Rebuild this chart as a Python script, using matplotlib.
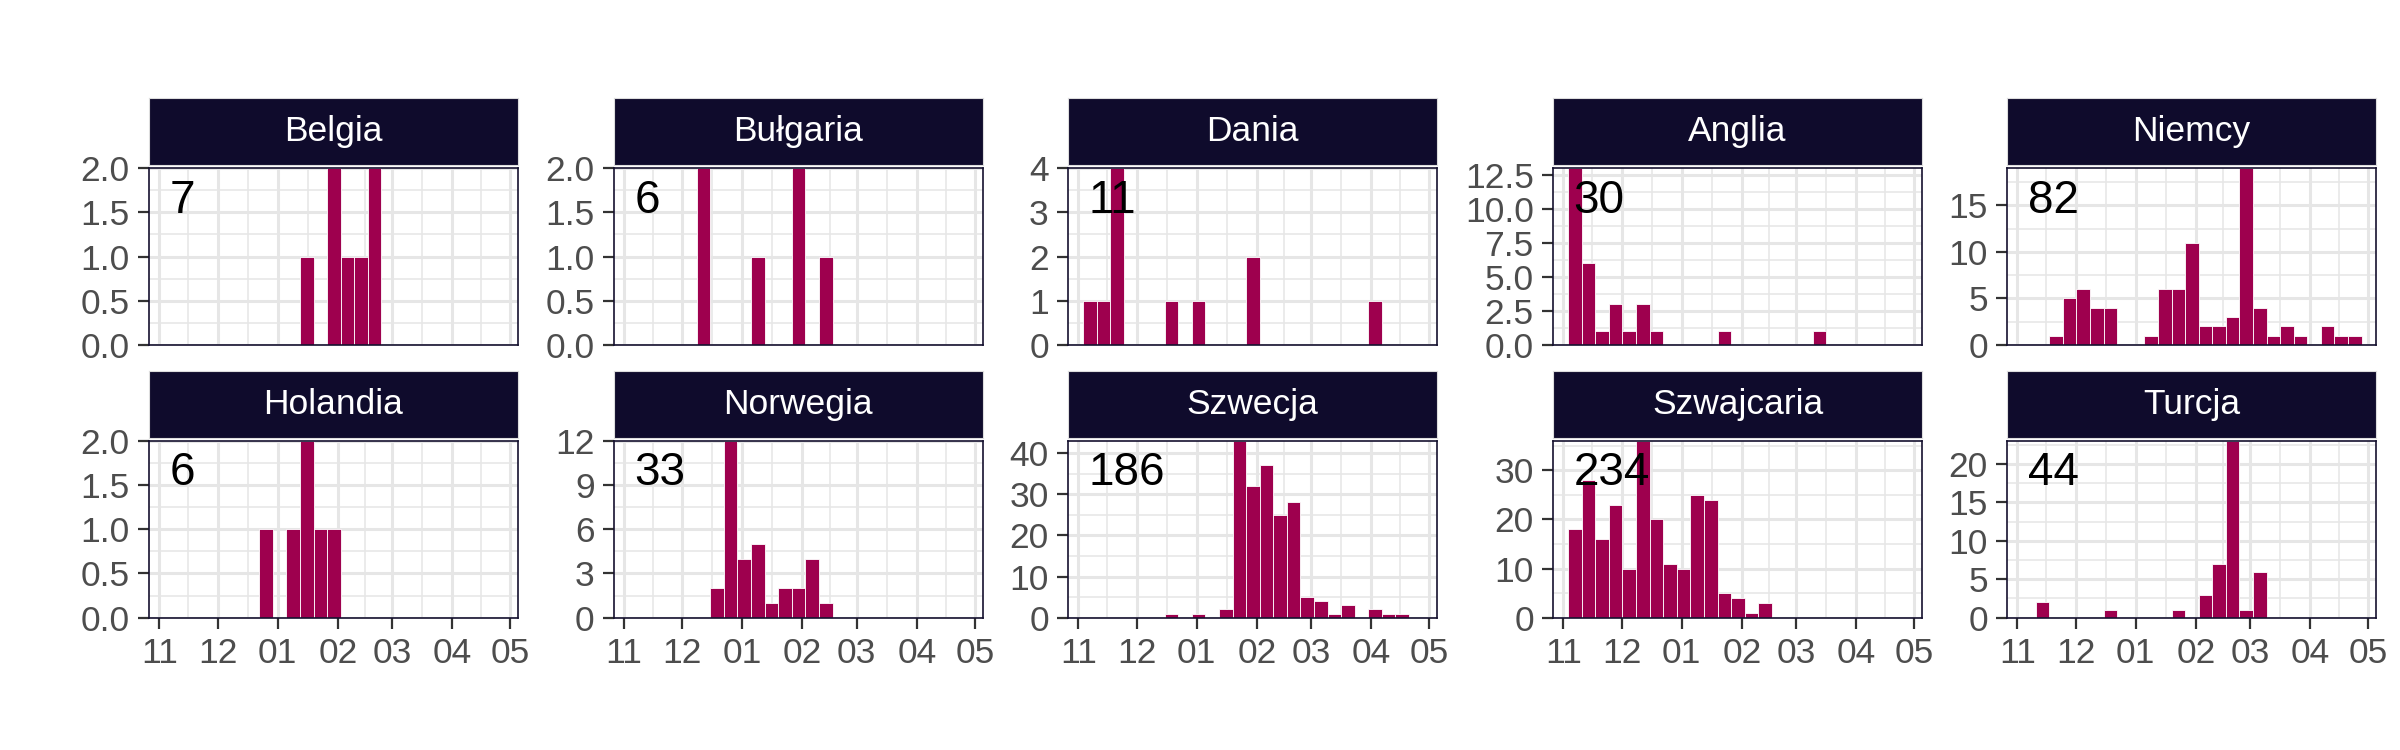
import numpy as np
import matplotlib.pyplot as plt

plt.rcParams['font.family'] = ['Liberation Sans', 'DejaVu Sans']

# %% Dane: liczba obserwacji w tygodniach (indeks tygodnia -> liczba), dzien 0 = 1 listopada
first_edge = -4.5
n_weeks = 27
binwidth = 7
month_days = [0, 30, 61, 92, 120, 151, 181]
month_labels = ['11', '12', '01', '02', '03', '04', '05']

countries = ['Belgia', 'Bułgaria', 'Dania', 'Anglia', 'Niemcy',
             'Holandia', 'Norwegia', 'Szwecja', 'Szwajcaria', 'Turcja']

belgia = {11: 1, 13: 2, 14: 1, 15: 1, 16: 2}
bulgaria = {6: 2, 10: 1, 13: 2, 15: 1}
dania = {1: 1, 2: 1, 3: 4, 7: 1, 9: 1, 13: 2, 22: 1}
anglia = {1: 13, 2: 6, 3: 1, 4: 3, 5: 1, 6: 3, 7: 1, 12: 1, 19: 1}
niemcy = {3: 1, 4: 5, 5: 6, 6: 4, 7: 4, 10: 1, 11: 6, 12: 6, 13: 11, 14: 2,
          15: 2, 16: 3, 17: 19, 18: 4, 19: 1, 20: 2, 21: 1, 23: 2, 24: 1, 25: 1}
holandia = {8: 1, 10: 1, 11: 2, 12: 1, 13: 1}
norwegia = {7: 2, 8: 12, 9: 4, 10: 5, 11: 1, 12: 2, 13: 2, 14: 4, 15: 1}
szwecja = {7: 1, 9: 1, 11: 2, 12: 43, 13: 32, 14: 37, 15: 25, 16: 28, 17: 5,
           18: 4, 19: 1, 20: 3, 22: 2, 23: 1, 24: 1}
szwajcaria = {1: 18, 2: 28, 3: 16, 4: 23, 5: 10, 6: 36, 7: 20, 8: 11, 9: 10,
              10: 25, 11: 24, 12: 5, 13: 4, 14: 1, 15: 3}
turcja = {2: 2, 7: 1, 12: 1, 14: 3, 15: 7, 16: 23, 17: 1, 18: 6}

data = [belgia, bulgaria, dania, anglia, niemcy,
        holandia, norwegia, szwecja, szwajcaria, turcja]
y_step = [0.5, 0.5, 1, 2.5, 5, 0.5, 3, 10, 10, 5]

# %% Styl
bar_color = '#9E004E'
strip_color = '#0F0B2C'
border_color = '#15112F'
grid_color = '#E6E6E6'

W, H = 2400, 750
col_left = [149.3, 614.0, 1068.3, 1553.3, 2007.3]
panel_w = 368.5
panel_h = 177.0
row_bottom = [405.0, 132.3]
strip_h = 67.0

fig = plt.figure(figsize=(24, 7.5), dpi=100)
fig.patch.set_facecolor('white')

edges = first_edge + binwidth * np.arange(n_weeks)

for i, (name, d) in enumerate(zip(countries, data)):
    row, col = divmod(i, 5)
    counts = np.zeros(n_weeks)
    for k, v in d.items():
        counts[k] = v
    ax = fig.add_axes([col_left[col] / W, row_bottom[row] / H, panel_w / W, panel_h / H])
    ax.bar(edges, counts, width=binwidth, align='edge', color=bar_color,
           edgecolor='white', linewidth=0.6, zorder=2)

    ymax = counts.max()
    ax.set_xlim(-5.16, 184.8)
    ax.set_ylim(0, ymax)

    step = y_step[i]
    yt = np.arange(0, ymax + 1e-9, step)
    ax.set_yticks(yt)
    if step < 1 or step == 2.5:
        ax.set_yticklabels([f'{v:.1f}' for v in yt])
    else:
        ax.set_yticklabels([f'{int(v)}' for v in yt])
    ax.set_yticks(np.arange(step / 2, ymax, step), minor=True)

    ax.set_xticks(month_days)
    ax.set_xticks([(a + b) / 2 for a, b in zip(month_days[:-1], month_days[1:])], minor=True)

    ax.set_axisbelow(True)
    ax.grid(which='major', color=grid_color, linewidth=2.2)
    ax.grid(which='minor', color=grid_color, linewidth=1.1)

    ax.tick_params(axis='y', which='major', length=8, width=1.6, color='#333333',
                   labelsize=25.5, labelcolor='#4D4D4D', pad=6)
    ax.tick_params(which='minor', length=0)
    if row == 1:
        ax.set_xticklabels(month_labels)
        ax.tick_params(axis='x', which='major', length=8, width=1.6, color='#333333',
                       labelsize=25.5, labelcolor='#4D4D4D', pad=6)
    else:
        ax.set_xticklabels([])
        ax.tick_params(axis='x', which='major', length=0)

    for s in ax.spines.values():
        s.set_color(border_color)
        s.set_linewidth(1.2)

    ax.text(0.055, 0.816, f'{int(counts.sum())}', transform=ax.transAxes,
            ha='left', va='center', fontsize=33, color='black', zorder=5)

    # pasek z nazwa kraju
    sax = fig.add_axes([col_left[col] / W, (row_bottom[row] + panel_h + 3) / H,
                        panel_w / W, strip_h / H])
    sax.set_facecolor(strip_color)
    sax.set_xticks([])
    sax.set_yticks([])
    for s in sax.spines.values():
        s.set_color('#DDDDDD')
        s.set_linewidth(0.8)
    sax.text(0.5, 0.5, name, transform=sax.transAxes, ha='center', va='center',
             fontsize=25.5, color='white')

fig.savefig('out.png', dpi=100, facecolor='white')
